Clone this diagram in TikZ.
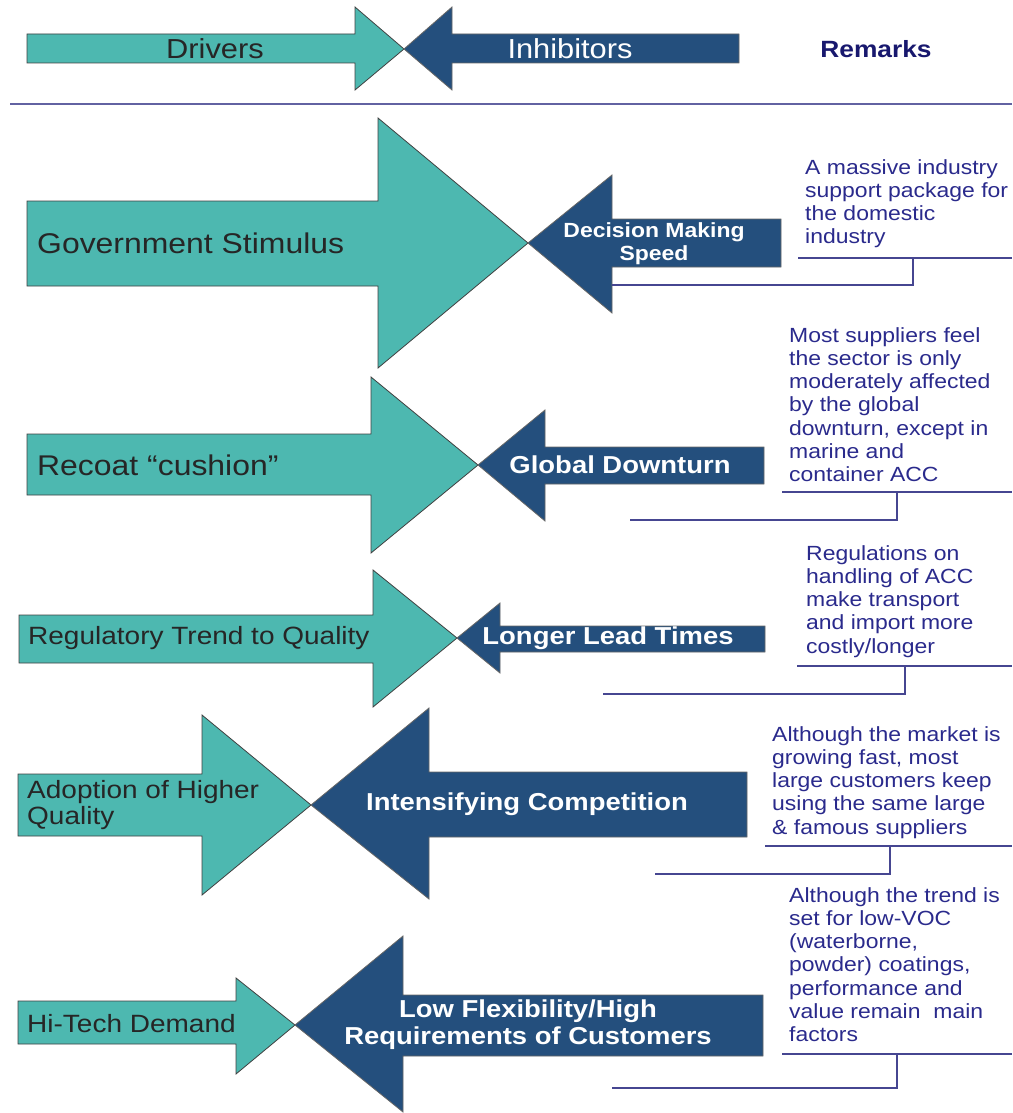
\documentclass[tikz,border=0pt]{standalone}
\usepackage{fontspec}
\setmainfont[FakeStretch=1.12]{Liberation Sans}

\definecolor{drivercol}{RGB}{77,184,176}
\definecolor{inhibcol}{RGB}{36,79,125}
\definecolor{remarkcol}{RGB}{42,42,140}
\definecolor{headcol}{RGB}{24,24,110}
\definecolor{linecol}{RGB}{70,70,145}

\tikzstyle{driver}=[fill=drivercol,draw=black!75,line width=0.8pt]
\tikzstyle{inhibitor}=[fill=inhibcol,draw=black!60,line width=0.8pt]
\tikzstyle{drivertext}=[inner sep=0pt,text=black!85,font=\fontsize{25}{26}\selectfont]
\tikzstyle{inhibtext}=[inner sep=0pt,text=white,align=center,font=\bfseries\fontsize{24.5}{27}\selectfont]
\tikzstyle{remark}=[inner sep=0pt,anchor=north west,align=left,text=remarkcol,font=\fontsize{20.5}{23.3}\selectfont]
\tikzstyle{bracket}=[draw=linecol,line width=1.6pt]

\begin{document}
\begin{tikzpicture}[x=1pt,y=-1pt]
	\useasboundingbox (0,0) rectangle (1012,1113);
		% Driver arrows: tail/shaft top/shaft bottom/head base/head top/head bottom/tip
		\foreach \xa/\st/\sb/\hx/\ht/\hb/\tx/\ty in {27/34/63/355/7/90/404/49, 27/201/286/378/118/368/528/243,
			27/434/495/371/377/553/478/465, 19/615/663/373/570/707/457/638,
			18/774/836/202/715/895/311/805, 18/1001/1044/236/978/1074/295/1025}
			\path[driver] (\xa,\st) -- (\hx,\st) -- (\hx,\ht) -- (\tx,\ty) -- (\hx,\hb) -- (\hx,\sb) -- (\xa,\sb) -- cycle;
		% Inhibitor arrows, pointing back at the drivers
		\foreach \xa/\st/\sb/\hx/\ht/\hb/\tx/\ty in {739/34/63/452/7/90/404/49, 781/219/267/612/175/313/528/243,
			764/447/484/545/410/521/478/465, 765/626/652/500/603/673/457/638,
			747/772/837/429/708/899/311/805, 763/995/1056/403/936/1112/295/1025}
			\path[inhibitor] (\xa,\st) -- (\hx,\st) -- (\hx,\ht) -- (\tx,\ty) -- (\hx,\hb) -- (\hx,\sb) -- (\xa,\sb) -- cycle;

		% Header
		\node[drivertext,font=\fontsize{27.5}{30}\selectfont] (drivers) at (215,49) {Drivers};
		\node[drivertext,text=white,font=\fontsize{27.5}{30}\selectfont] (inhibitors) at (570,49) {Inhibitors};
		\node[inner sep=0pt,text=headcol,font=\bfseries\fontsize{23.5}{26}\selectfont] (remarks) at (876,49) {Remarks};
		\draw[draw=linecol!85,line width=1.2pt] (10,104) -- (1012,104);

		% Drivers
		\node[drivertext,anchor=west,font=\fontsize{28.5}{32}\selectfont] (govt) at (37,243) {Government Stimulus};
		\node[drivertext,anchor=west,font=\fontsize{28.5}{32}\selectfont] (recoat) at (37,465) {Recoat “cushion”};
		\node[drivertext,anchor=west] (regul) at (28,638) {Regulatory Trend to Quality};
		\node[drivertext,anchor=west,align=left] (adopt) at (27,805) {Adoption of Higher\\Quality};
		\node[drivertext,anchor=west] (hitech) at (27,1024) {Hi-Tech Demand};

		% Inhibitors
		\node[inhibtext,font=\bfseries\fontsize{20.5}{23}\selectfont] (speed) at (654,244) {Decision Making\\Speed};
		\node[inhibtext] (downturn) at (620,465) {Global Downturn};
		\node[inhibtext] (lead) at (608,638) {Longer Lead Times};
		\node[inhibtext] (compet) at (527,804) {Intensifying Competition};
		\node[inhibtext] (flex) at (528,1025) {Low Flexibility/High\\Requirements of Customers};

		% Remarks
		\node[remark] (rem1) at (805,159) {A massive industry\\support package for\\the domestic\\industry};
		\node[remark] (rem2) at (789,327) {Most suppliers feel\\the sector is only\\moderately affected\\by the global\\downturn, except in\\marine and\\container ACC};
		\node[remark] (rem3) at (806,545) {Regulations on\\handling of ACC\\make transport\\and import more\\costly/longer};
		\node[remark] (rem4) at (772,726) {Although the market is\\growing fast, most\\large customers keep\\using the same large\\\& famous suppliers};
		\node[remark] (rem5) at (789,887) {Although the trend is\\set for low-VOC\\(waterborne,\\powder) coatings,\\performance and\\value remain\ \ main\\factors};

		% Brackets from each remark back to its inhibitor
		\foreach \i/\xa/\yh/\xv/\yl/\xe in {1/798/258/913/285/612, 2/782/492/897/520/630, 3/797/666/905/694/603,
			4/765/846/890/874/655, 5/782/1054/897/1088/612}
		{
			\coordinate (top\i) at (\xa,\yh);
			\coordinate (edge\i) at (1012,\yh);
			\coordinate (knee\i) at (\xv,\yh);
			\coordinate (end\i) at (\xe,\yl);
			\path[bracket] (top\i) -- (edge\i);
			\path[bracket] (knee\i) |- (end\i);
		}
\end{tikzpicture}
\end{document}
